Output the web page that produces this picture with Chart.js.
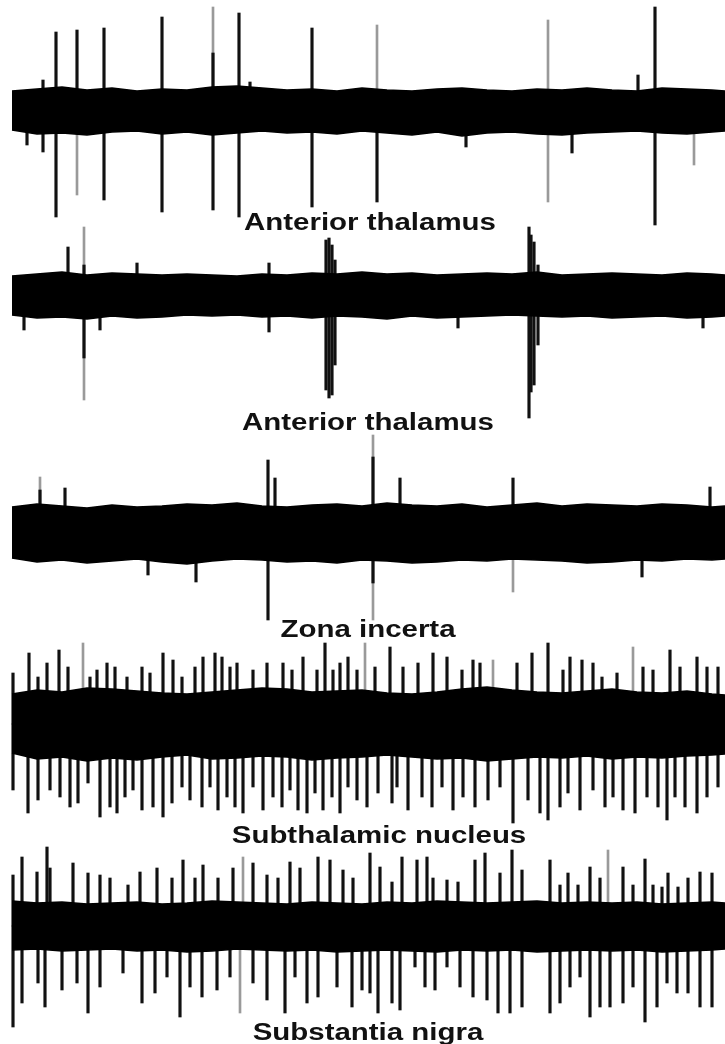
<!DOCTYPE html>
<html>
<head>
<meta charset="utf-8">
<script src="https://cdn.jsdelivr.net/npm/chart.js@4.4.1/dist/chart.umd.min.js"></script>
<style>
  html, body { margin: 0; padding: 0; background: #fff; }
  #wrap { position: relative; width: 725px; height: 1044px; overflow: hidden; }
  canvas { position: absolute; left: 0; }
  .lbl {
    position: absolute; white-space: nowrap;
    font-family: "Liberation Sans", Arial, sans-serif; font-weight: bold;
    font-size: 23px; line-height: 23px; color: #111;
    transform: translateX(-50%) scaleX(1.28); z-index: 2;
  }
</style>
</head>
<body>
<div id="wrap">
  <canvas id="trace1" width="725" height="230" style="top:0px"></canvas>
  <canvas id="trace2" width="725" height="200" style="top:222px"></canvas>
  <canvas id="trace3" width="725" height="195" style="top:430px"></canvas>
  <canvas id="trace4" width="725" height="190" style="top:640px"></canvas>
  <canvas id="trace5" width="725" height="195" style="top:840px"></canvas>
  <div class="lbl" id="lbl1" style="left:370px; top:211px"></div>
  <div class="lbl" id="lbl2" style="left:368px; top:411px"></div>
  <div class="lbl" id="lbl3" style="left:368px; top:618px"></div>
  <div class="lbl" id="lbl4" style="left:379px; top:824px"></div>
  <div class="lbl" id="lbl5" style="left:368px; top:1021px"></div>
</div>
<script>
// region names under each trace
const regions = ['Anterior thalamus', 'Anterior thalamus', 'Zona incerta', 'Subthalamic nucleus', 'Substantia nigra'];

// time samples where the noise envelope was read
const bandX = [12, 37, 62, 87, 112, 137, 162, 187, 212, 237, 262, 287, 312, 337, 362, 387, 412, 437, 462, 487, 512, 537, 562, 587, 612, 637, 662, 687, 712, 725];

// --- trace 1 : anterior thalamus ---
const t1BandUp = [19, 21, 23, 20, 22, 19, 21, 20, 23, 24, 22, 20, 21, 19, 22, 20, 19, 21, 22, 20, 19, 21, 20, 22, 20, 19, 22, 21, 20, 19];
const t1BandDown = [-20, -24, -23, -25, -22, -21, -24, -22, -25, -23, -21, -23, -22, -24, -21, -23, -25, -22, -26, -23, -22, -24, -25, -23, -22, -21, -23, -24, -22, -21];
const t1SpikeX = [56, 56, 77, 104, 104, 162, 162, 213, 213, 239, 239, 312, 312, 377, 655, 655, 27, 43, 43, 466, 572, 638, 250];
const t1SpikeAmp = [78, -107, 80, 82, -90, 93, -102, 57, -100, 97, -107, 82, -97, -92, 103, -115, -35, 30, -42, -37, -43, 35, 28];
const t1FaintX = [77, 213, 377, 548, 548, 694];
const t1FaintAmp = [-85, 103, 85, 90, -92, -55];

// --- trace 2 : anterior thalamus ---
const t2BandUp = [19, 21, 23, 20, 22, 21, 20, 21, 20, 19, 21, 20, 22, 21, 23, 21, 22, 20, 21, 22, 21, 23, 20, 21, 22, 21, 20, 22, 21, 20];
const t2BandDown = [-20, -23, -22, -24, -21, -23, -22, -20, -21, -20, -22, -21, -23, -21, -22, -24, -21, -23, -22, -21, -20, -21, -22, -21, -23, -22, -21, -23, -22, -21];
const t2SpikeX = [84, 84, 68, 326, 326, 329, 329, 332, 332, 335, 335, 529, 529, 531, 531, 534, 534, 538, 538, 137, 269, 269, 100, 24, 458, 703];
const t2SpikeAmp = [30, -63, 48, 55, -95, 57, -103, 50, -100, 35, -70, 68, -123, 60, -97, 53, -90, 30, -50, 32, 32, -37, -35, -35, -33, -33];
const t2FaintX = [84, 84];
const t2FaintAmp = [68, -105];

// --- trace 3 : zona incerta ---
const t3BandUp = [25, 28, 26, 24, 27, 25, 26, 28, 27, 29, 26, 25, 27, 28, 26, 29, 27, 26, 28, 25, 27, 29, 26, 28, 27, 26, 28, 27, 25, 26];
const t3BandDown = [-26, -30, -28, -31, -29, -27, -30, -32, -29, -27, -28, -30, -29, -31, -28, -29, -31, -30, -28, -29, -27, -28, -29, -31, -30, -28, -29, -27, -28, -27];
const t3SpikeX = [268, 268, 275, 196, 148, 373, 373, 400, 513, 642, 710, 40, 65];
const t3SpikeAmp = [72, -88, 54, -50, -43, 75, -51, 54, 54, -45, 45, 42, 44];
const t3FaintX = [373, 373, 513, 40];
const t3FaintAmp = [97, -88, -60, 55];

// --- trace 4 : subthalamic nucleus ---
const t4BandUp = [30, 34, 32, 36, 35, 33, 31, 30, 32, 34, 36, 35, 32, 33, 34, 31, 30, 32, 35, 37, 34, 32, 31, 33, 35, 32, 31, 33, 30, 29];
const t4BandDown = [-29, -35, -33, -37, -34, -36, -33, -31, -35, -34, -32, -33, -36, -34, -33, -31, -33, -35, -34, -37, -35, -33, -34, -32, -35, -33, -34, -32, -31, -30];
const t4UpX = [13, 29, 38, 47, 59, 68, 90, 97, 107, 115, 127, 142, 150, 163, 173, 182, 195, 203, 215, 222, 230, 237, 253, 267, 283, 292, 303, 317, 325, 333, 340, 348, 357, 375, 390, 403, 418, 433, 447, 462, 473, 480, 517, 532, 548, 563, 570, 582, 593, 602, 617, 643, 653, 670, 680, 697, 707, 718];
const t4UpAmp = [51, 71, 47, 61, 74, 57, 47, 54, 61, 57, 47, 57, 51, 71, 64, 47, 57, 67, 71, 67, 57, 61, 54, 61, 61, 54, 67, 54, 81, 54, 61, 67, 54, 57, 77, 57, 61, 71, 67, 54, 64, 61, 61, 71, 81, 54, 67, 64, 61, 47, 51, 57, 54, 74, 57, 67, 57, 57];
const t4DownX = [13, 28, 38, 50, 60, 70, 78, 88, 100, 110, 117, 125, 133, 142, 153, 163, 172, 182, 190, 202, 210, 218, 227, 235, 243, 253, 263, 273, 282, 290, 298, 307, 315, 323, 332, 340, 348, 357, 367, 378, 392, 397, 408, 422, 432, 442, 453, 463, 475, 488, 500, 513, 528, 540, 548, 560, 568, 580, 593, 605, 613, 623, 635, 647, 658, 667, 675, 685, 697, 707, 718];
const t4DownAmp = [-66, -89, -76, -66, -73, -83, -79, -59, -93, -83, -89, -73, -66, -86, -83, -93, -79, -63, -76, -83, -63, -86, -73, -83, -89, -63, -86, -73, -83, -66, -86, -89, -69, -86, -73, -89, -63, -76, -83, -69, -79, -63, -86, -73, -83, -63, -86, -73, -83, -76, -63, -99, -76, -89, -96, -83, -69, -86, -66, -83, -73, -86, -89, -73, -83, -96, -73, -83, -89, -73, -63];
const t4FaintX = [83, 365, 633, 493];
const t4FaintAmp = [81, 81, 77, 64];

// --- trace 5 : substantia nigra ---
const t5BandUp = [25, 23, 24, 22, 23, 24, 22, 23, 25, 24, 23, 22, 24, 23, 22, 24, 23, 25, 24, 23, 24, 25, 23, 24, 23, 24, 22, 23, 24, 23];
const t5BandDown = [-24, -23, -25, -24, -23, -25, -24, -26, -25, -23, -24, -25, -24, -26, -25, -24, -25, -26, -24, -25, -24, -26, -25, -24, -25, -24, -26, -25, -24, -23];
const t5UpX = [13, 22, 37, 47, 50, 73, 88, 100, 110, 128, 140, 157, 172, 183, 195, 203, 218, 233, 253, 267, 278, 290, 300, 318, 330, 343, 353, 370, 380, 392, 402, 417, 427, 433, 447, 458, 475, 485, 500, 512, 522, 550, 560, 568, 578, 590, 600, 623, 633, 645, 653, 662, 668, 678, 688, 700, 712];
const t5UpAmp = [51, 69, 54, 79, 58, 63, 53, 51, 48, 41, 54, 58, 48, 66, 48, 61, 48, 58, 63, 51, 48, 64, 58, 69, 66, 56, 48, 73, 59, 44, 69, 66, 69, 48, 46, 44, 66, 73, 53, 76, 56, 66, 41, 53, 41, 59, 48, 59, 41, 67, 41, 39, 53, 39, 48, 54, 53];
const t5DownX = [13, 22, 38, 45, 62, 77, 88, 100, 123, 142, 155, 167, 180, 190, 202, 217, 230, 253, 267, 285, 295, 307, 318, 337, 352, 362, 370, 378, 392, 400, 415, 425, 435, 447, 460, 473, 487, 498, 510, 522, 550, 560, 570, 580, 590, 600, 610, 623, 633, 645, 657, 667, 677, 688, 700, 712];
const t5DownAmp = [-101, -77, -57, -81, -64, -57, -87, -61, -47, -77, -67, -51, -91, -61, -71, -64, -51, -57, -74, -87, -51, -77, -71, -61, -81, -64, -67, -87, -77, -84, -41, -61, -64, -41, -61, -71, -74, -87, -87, -81, -87, -77, -61, -51, -91, -81, -81, -77, -61, -96, -81, -57, -67, -67, -81, -81];
const t5FaintX = [243, 608, 240];
const t5FaintAmp = [69, 76, -87];

function pts(xs, ys) {
    return xs.map((x, i) => ({ x: x, y: ys[i] }));
}

function drawTrace(id, up, down, spikes, faint, yMin, yMax) {
    new Chart(document.getElementById(id), {
        data: {
            datasets: [
                { type: 'line', data: pts(bandX, up), fill: '+1', borderColor: '#000', backgroundColor: '#000', borderWidth: 1.5, pointRadius: 0, tension: 0 },
                { type: 'line', data: pts(bandX, down), fill: false, borderColor: '#000', borderWidth: 1.5, pointRadius: 0, tension: 0 },
                { type: 'bar', data: spikes, backgroundColor: '#111', barThickness: 2.5, grouped: false },
                { type: 'bar', data: faint, backgroundColor: '#9a9a9a', barThickness: 2, grouped: false }
            ]
        },
        options: {
            responsive: false,
            animation: false,
            events: [],
            layout: { padding: 0 },
            plugins: { legend: { display: false }, tooltip: { enabled: false } },
            scales: {
                x: { type: 'linear', min: 0, max: 725, offset: false, display: false },
                y: { min: yMin, max: yMax, display: false }
            }
        }
    });
}

drawTrace('trace1', t1BandUp, t1BandDown, pts(t1SpikeX, t1SpikeAmp), pts(t1FaintX, t1FaintAmp), -120, 110);
drawTrace('trace2', t2BandUp, t2BandDown, pts(t2SpikeX, t2SpikeAmp), pts(t2FaintX, t2FaintAmp), -127, 73);
drawTrace('trace3', t3BandUp, t3BandDown, pts(t3SpikeX, t3SpikeAmp), pts(t3FaintX, t3FaintAmp), -93, 102);
drawTrace('trace4', t4BandUp, t4BandDown, pts(t4UpX, t4UpAmp).concat(pts(t4DownX, t4DownAmp)), pts(t4FaintX, t4FaintAmp), -106, 84);
drawTrace('trace5', t5BandUp, t5BandDown, pts(t5UpX, t5UpAmp).concat(pts(t5DownX, t5DownAmp)), pts(t5FaintX, t5FaintAmp), -109, 86);

regions.forEach((name, i) => {
    document.getElementById('lbl' + (i + 1)).textContent = name;
});
</script>
</body>
</html>
